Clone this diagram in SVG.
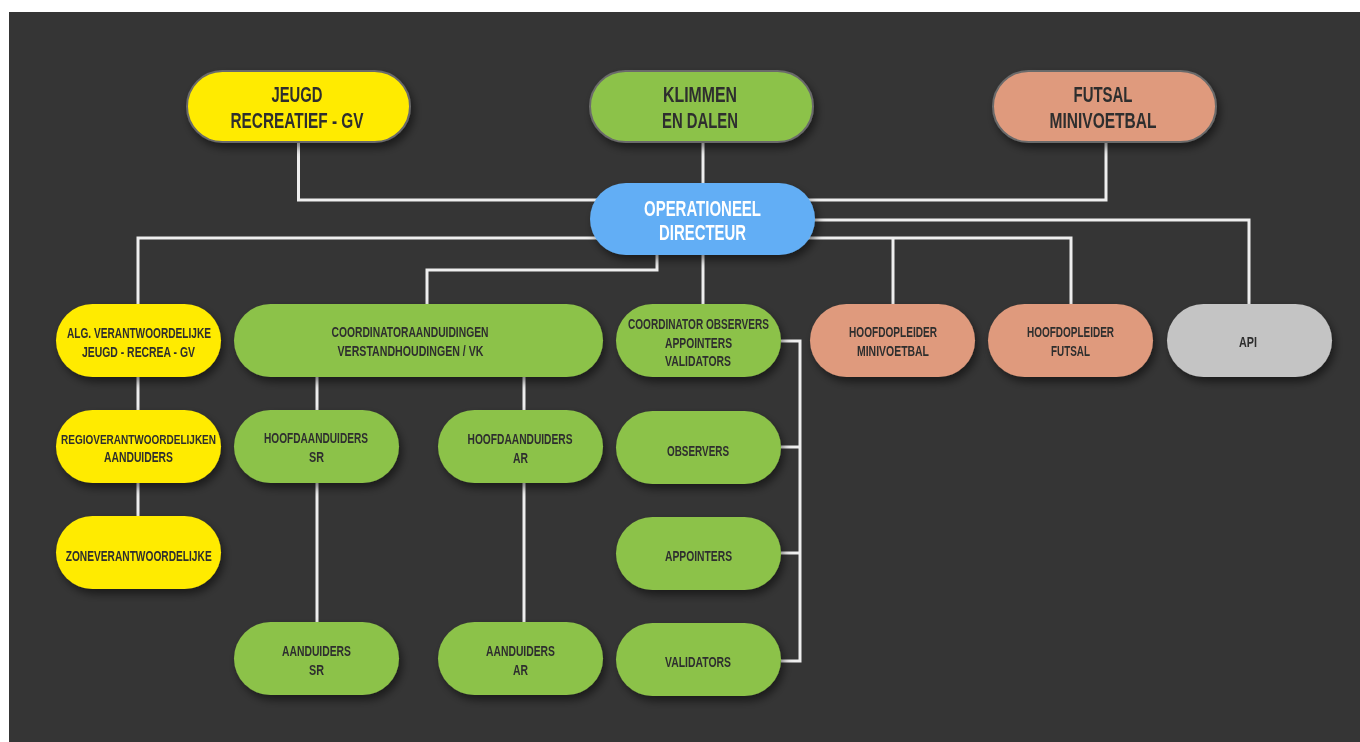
<svg xmlns="http://www.w3.org/2000/svg" width="1360" height="742" viewBox="0 0 1360 742">
<defs>
<filter id="sh" x="-20%" y="-30%" width="140%" height="170%">
<feDropShadow dx="3" dy="5" stdDeviation="4" flood-color="#000" flood-opacity="0.5"/>
</filter>
<style>
.n{filter:url(#sh)}
.top{stroke:#6a6a6a;stroke-width:2}
.y{fill:#FFEB00}
.g{fill:#8CC24A}
.b{fill:#62AEF5}
.s{fill:#DF9A7D}
.gr{fill:#C4C4C4}
text{font-family:"Liberation Sans Narrow","Liberation Sans",Arial,sans-serif;font-weight:bold;fill:#2e2e2e;text-anchor:middle}
.L{font-size:22px}
.S{font-size:15.5px}
.T{font-size:13px}
.w{fill:#ffffff}
.c{fill:none;stroke:#eeeeee;stroke-width:3}
</style>
</defs>
<rect x="0" y="0" width="1360" height="742" fill="#ffffff"/>
<rect x="9" y="12" width="1351" height="730" fill="#353535"/>

<g id="connectors" class="c">
<path d="M298.5 142 V200 H600"/>
<path d="M703 142 V190"/>
<path d="M1106 142 V200 H805"/>
<path d="M138 304 V238 H600"/>
<path d="M805 220 H1249 V304"/>
<path d="M805 238 H1071 V304"/>
<path d="M893 238 V304"/>
<path d="M657 250 V270 H427 V304"/>
<path d="M703 250 V304"/>
<path d="M138 377 V410"/>
<path d="M138 483 V516"/>
<path d="M317 377 V410"/>
<path d="M317 483 V622"/>
<path d="M524 377 V410"/>
<path d="M524 483 V622"/>
<path d="M781 341 H800 V661 H781"/>
<path d="M781 447 H800"/>
<path d="M781 553 H800"/>
</g>

<g id="jeugd" class="n">
<rect class="y top" x="187" y="71" width="223" height="71" rx="35.5"/>
<text class="L" x="297" y="102" textLength="51" lengthAdjust="spacingAndGlyphs">JEUGD</text>
<text class="L" x="297" y="128" textLength="133" lengthAdjust="spacingAndGlyphs">RECREATIEF - GV</text>
</g>
<g id="klimmen" class="n">
<rect class="g top" x="590" y="71" width="223" height="71" rx="35.5"/>
<text class="L" x="700" y="102" textLength="74" lengthAdjust="spacingAndGlyphs">KLIMMEN</text>
<text class="L" x="700" y="128" textLength="76" lengthAdjust="spacingAndGlyphs">EN DALEN</text>
</g>
<g id="futsal" class="n">
<rect class="s top" x="993" y="71" width="223" height="71" rx="35.5"/>
<text class="L" x="1103" y="102" textLength="59" lengthAdjust="spacingAndGlyphs">FUTSAL</text>
<text class="L" x="1103" y="128" textLength="107" lengthAdjust="spacingAndGlyphs">MINIVOETBAL</text>
</g>
<g id="directeur" class="n">
<rect class="b" x="590" y="183" width="225" height="72" rx="36"/>
<text class="L w" x="702.5" y="216" textLength="117" lengthAdjust="spacingAndGlyphs">OPERATIONEEL</text>
<text class="L w" x="702.5" y="240" textLength="87" lengthAdjust="spacingAndGlyphs">DIRECTEUR</text>
</g>

<g id="alg" class="n">
<rect class="y" x="56" y="304" width="165" height="73" rx="36.5"/>
<text class="S" x="139" y="338" textLength="144" lengthAdjust="spacingAndGlyphs">ALG. VERANTWOORDELIJKE</text>
<text class="S" x="138.5" y="357" textLength="113" lengthAdjust="spacingAndGlyphs">JEUGD - RECREA - GV</text>
</g>
<g id="coord-aand" class="n">
<rect class="g" x="234" y="304" width="369" height="73" rx="36.5"/>
<text class="S" x="410" y="337" textLength="157" lengthAdjust="spacingAndGlyphs">COORDINATORAANDUIDINGEN</text>
<text class="S" x="410.5" y="356" textLength="146" lengthAdjust="spacingAndGlyphs">VERSTANDHOUDINGEN / VK</text>
</g>
<g id="coord-obs" class="n">
<rect class="g" x="616" y="304" width="165" height="73" rx="36.5"/>
<text class="S" x="698.5" y="329" textLength="141" lengthAdjust="spacingAndGlyphs">COORDINATOR OBSERVERS</text>
<text class="S" x="698.5" y="347.5" textLength="67" lengthAdjust="spacingAndGlyphs">APPOINTERS</text>
<text class="S" x="698" y="366" textLength="66" lengthAdjust="spacingAndGlyphs">VALIDATORS</text>
</g>
<g id="hoofdopl-mini" class="n">
<rect class="s" x="810" y="304" width="165" height="73" rx="36.5"/>
<text class="S" x="893" y="337" textLength="88" lengthAdjust="spacingAndGlyphs">HOOFDOPLEIDER</text>
<text class="S" x="893" y="356" textLength="72" lengthAdjust="spacingAndGlyphs">MINIVOETBAL</text>
</g>
<g id="hoofdopl-futsal" class="n">
<rect class="s" x="988" y="304" width="165" height="73" rx="36.5"/>
<text class="S" x="1070.5" y="337" textLength="87" lengthAdjust="spacingAndGlyphs">HOOFDOPLEIDER</text>
<text class="S" x="1070.5" y="356" textLength="39" lengthAdjust="spacingAndGlyphs">FUTSAL</text>
</g>
<g id="api" class="n">
<rect class="gr" x="1167" y="304" width="165" height="73" rx="36.5"/>
<text class="S" x="1248" y="347" textLength="18" lengthAdjust="spacingAndGlyphs">API</text>
</g>

<g id="regio" class="n">
<rect class="y" x="56" y="410" width="165" height="73" rx="36.5"/>
<text class="T" x="138.5" y="443.5" textLength="155" lengthAdjust="spacingAndGlyphs">REGIOVERANTWOORDELIJKEN</text>
<text class="S" x="138.5" y="462" textLength="69" lengthAdjust="spacingAndGlyphs">AANDUIDERS</text>
</g>
<g id="hoofd-sr" class="n">
<rect class="g" x="234" y="410" width="165" height="73" rx="36.5"/>
<text class="S" x="316" y="443" textLength="104" lengthAdjust="spacingAndGlyphs">HOOFDAANDUIDERS</text>
<text class="S" x="316.5" y="461.5" textLength="15" lengthAdjust="spacingAndGlyphs">SR</text>
</g>
<g id="hoofd-ar" class="n">
<rect class="g" x="438" y="410" width="165" height="73" rx="36.5"/>
<text class="S" x="520" y="444" textLength="105" lengthAdjust="spacingAndGlyphs">HOOFDAANDUIDERS</text>
<text class="S" x="520.5" y="463" textLength="15" lengthAdjust="spacingAndGlyphs">AR</text>
</g>
<g id="observers" class="n">
<rect class="g" x="616" y="411" width="165" height="73" rx="36.5"/>
<text class="S" x="698" y="456" textLength="62" lengthAdjust="spacingAndGlyphs">OBSERVERS</text>
</g>

<g id="zone" class="n">
<rect class="y" x="56" y="516" width="165" height="73" rx="36.5"/>
<text class="S" x="138.7" y="561" textLength="146" lengthAdjust="spacingAndGlyphs">ZONEVERANTWOORDELIJKE</text>
</g>
<g id="appointers" class="n">
<rect class="g" x="616" y="517" width="165" height="73" rx="36.5"/>
<text class="S" x="698.5" y="561" textLength="67" lengthAdjust="spacingAndGlyphs">APPOINTERS</text>
</g>

<g id="aand-sr" class="n">
<rect class="g" x="234" y="622" width="165" height="73" rx="36.5"/>
<text class="S" x="316.5" y="656" textLength="69" lengthAdjust="spacingAndGlyphs">AANDUIDERS</text>
<text class="S" x="316.5" y="674.5" textLength="15" lengthAdjust="spacingAndGlyphs">SR</text>
</g>
<g id="aand-ar" class="n">
<rect class="g" x="438" y="622" width="165" height="73" rx="36.5"/>
<text class="S" x="520.5" y="656" textLength="69" lengthAdjust="spacingAndGlyphs">AANDUIDERS</text>
<text class="S" x="520.5" y="674.5" textLength="15" lengthAdjust="spacingAndGlyphs">AR</text>
</g>
<g id="validators" class="n">
<rect class="g" x="616" y="623" width="165" height="73" rx="36.5"/>
<text class="S" x="698" y="667" textLength="66" lengthAdjust="spacingAndGlyphs">VALIDATORS</text>
</g>
</svg>
